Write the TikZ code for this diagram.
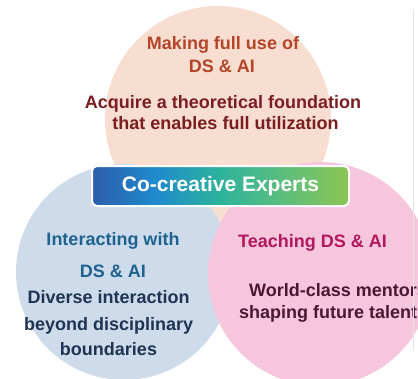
\documentclass[tikz,border=0pt]{standalone}
\usepackage{fontspec}
\setmainfont{Liberation Sans}
\usepackage{xcolor}
\usepackage{tikz}
\usetikzlibrary{positioning}

\definecolor{peach}{HTML}{F7DED0}
\definecolor{skyblue}{HTML}{CEDBEA}
\definecolor{rosepink}{HTML}{F6C7DC}
\definecolor{rust}{HTML}{B4452B}
\definecolor{wine}{HTML}{7A1E22}
\definecolor{steel}{HTML}{1E6290}
\definecolor{navy}{HTML}{1F3353}
\definecolor{magenta}{HTML}{B3175D}
\definecolor{plum}{HTML}{4B1733}
\definecolor{gradA}{HTML}{2D5DAA}
\definecolor{gradB}{HTML}{1F8BCD}
\definecolor{gradC}{HTML}{2DB39B}
\definecolor{gradD}{HTML}{5DBE7C}
\definecolor{gradE}{HTML}{8CC553}
\pgfdeclarehorizontalshading{cocreative}{100bp}{color(0bp)=(gradA); color(25bp)=(gradA); color(37.5bp)=(gradB); color(50bp)=(gradC); color(62.5bp)=(gradD); color(75bp)=(gradE); color(100bp)=(gradE)}

\begin{document}
\begin{tikzpicture}[x=1pt,y=-1pt]
 				 \tikzstyle{petal}=[circle, inner sep=0pt]
 				 \tikzstyle{lbl}=[inner sep=0pt, anchor=base, font=\fontsize{18}{20}\selectfont\bfseries]
 				 \useasboundingbox (0,0) rectangle (418,378);
 				 \fill[white] (0,0) rectangle (418,378);
 				 \clip (0,0) rectangle (418,378);
 					 \node[petal, fill=peach, minimum size=226pt]    (use)      at (218,119) {};
 					 \node[petal, fill=skyblue, minimum size=216pt]  (interact) at (124,272) {};
 					 \node[petal, fill=rosepink, minimum size=224pt] (teach)    at (320,274) {};
 					 \node[draw=white, line width=2pt, rounded corners=5pt, shading=cocreative,
 					       minimum width=257pt, minimum height=40pt, text=white,
 					       font=\fontsize{21}{24}\selectfont\bfseries] (banner) at (220.5,186) {Co-creative Experts};
 					 % top circle
 					 \node[lbl, text=rust]  (use1) at (223,49)  {Making full use of};
 					 \node[lbl, text=rust]  (use2) at (222,72)  {DS \& AI};
 					 \node[lbl, text=wine]  (use3) at (223,108) {Acquire a theoretical foundation};
 					 \node[lbl, text=wine]  (use4) at (225.5,129) {that enables full utilization};
 					 % left circle
 					 \node[lbl, text=steel] (interact1) at (113,245) {Interacting with};
 					 \node[lbl, text=steel] (interact2) at (113,277) {DS \& AI};
 					 \node[lbl, text=navy]  (interact3) at (108.7,303) {Diverse interaction};
 					 \node[lbl, text=navy]  (interact4) at (108.7,330) {beyond disciplinary};
 					 \node[lbl, text=navy]  (interact5) at (108.5,355) {boundaries};
 					 % right circle
 					 \node[lbl, text=magenta] (teach1) at (312.5,247) {Teaching DS \& AI};
 					 \node[lbl, text=plum, anchor=base west] (teach2) at (249,296) {World-class mentors};
 					 \node[lbl, text=plum, anchor=base west] (teach3) at (239,318) {shaping future talent};
 				 \draw[black!10, line width=0.7pt] (413,10) -- (413,350);
\end{tikzpicture}
\end{document}
